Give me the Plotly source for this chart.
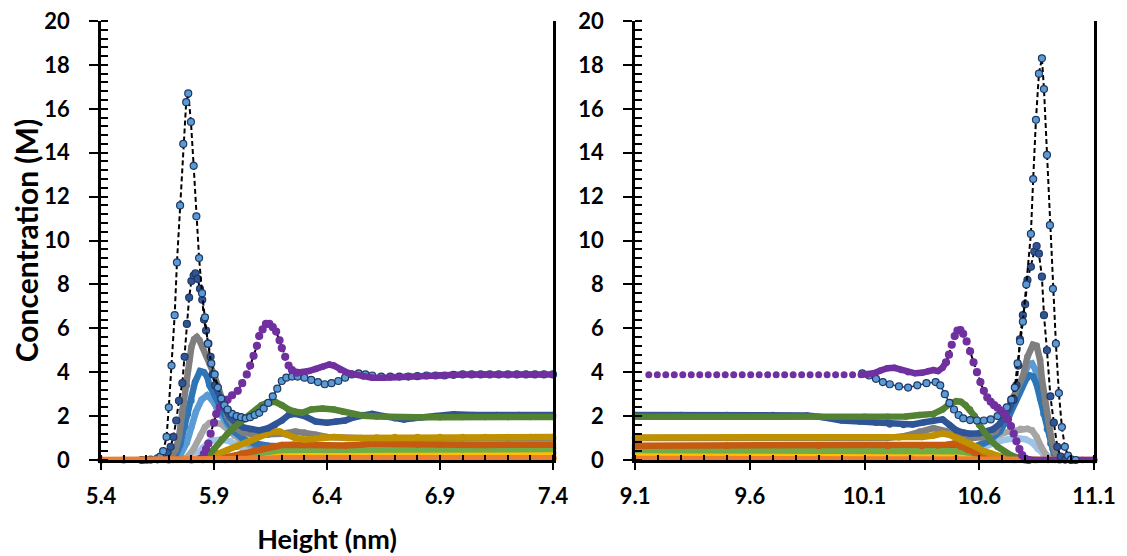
import plotly.graph_objects as go

# ---------------- tick labels ----------------
X_TICKS_L = [5.4, 5.9, 6.4, 6.9, 7.4]
X_TICKS_R = [9.1, 9.6, 10.1, 10.6, 11.1]
Y_TICKS = [0, 2, 4, 6, 8, 10, 12, 14, 16, 18, 20]

# ================= LEFT PANEL (height, concentration) =================
A_L_peak = [(5.58, 0), (5.62, 0.02), (5.65, 0.08), (5.662, 0.15), (5.675, 0.4), (5.69, 1.05), (5.70, 2.4),
            (5.712, 4.3), (5.726, 6.6), (5.736, 9.0), (5.75, 11.6), (5.764, 14.4), (5.777, 16.3), (5.786, 16.7),
            (5.798, 15.4), (5.81, 13.4), (5.822, 11.1), (5.834, 9.2), (5.847, 7.6), (5.86, 6.5), (5.873, 5.3),
            (5.888, 4.4), (5.903, 3.9), (5.917, 3.3), (5.932, 2.8), (5.946, 2.5), (5.96, 2.3)]
A_L_tail = [(5.96, 2.3), (5.98, 2.1), (6.00, 2.0), (6.02, 1.95), (6.04, 1.9), (6.06, 1.95), (6.08, 2.05),
            (6.10, 2.15), (6.12, 2.35), (6.14, 2.6), (6.16, 2.9), (6.18, 3.25), (6.20, 3.6), (6.22, 3.75),
            (6.245, 3.8), (6.27, 3.8), (6.30, 3.75), (6.33, 3.65), (6.36, 3.55), (6.39, 3.45), (6.42, 3.5),
            (6.45, 3.6), (6.48, 3.75), (6.51, 3.9), (6.54, 3.95), (6.57, 3.9), (6.60, 3.85), (6.64, 3.8),
            (6.68, 3.8), (6.72, 3.8), (6.76, 3.8), (6.80, 3.82), (6.84, 3.85), (6.88, 3.85), (6.92, 3.85),
            (6.96, 3.88), (7.00, 3.9), (7.04, 3.9), (7.08, 3.9), (7.12, 3.9), (7.16, 3.9), (7.20, 3.9),
            (7.24, 3.9), (7.28, 3.9), (7.32, 3.9), (7.36, 3.9), (7.40, 3.9)]
B_L_peak = [(5.60, 0), (5.65, 0.03), (5.68, 0.15), (5.695, 0.35), (5.708, 0.6), (5.72, 1.05), (5.733, 1.8),
            (5.745, 2.7), (5.76, 3.5), (5.77, 4.7), (5.78, 6.2), (5.79, 7.4), (5.80, 8.15), (5.81, 8.4),
            (5.818, 8.5), (5.828, 8.25), (5.838, 7.8), (5.848, 7.3), (5.856, 6.4), (5.865, 5.9), (5.875, 5.3),
            (5.885, 4.7), (5.895, 3.9), (5.905, 3.4)]
B_L_tail = [(5.905, 3.4), (5.93, 2.7), (5.95, 2.3), (5.97, 1.95), (6.00, 1.65), (6.03, 1.48), (6.06, 1.4),
            (6.10, 1.35), (6.14, 1.45), (6.17, 1.6), (6.20, 1.8), (6.23, 2.05), (6.26, 2.1), (6.30, 2.0),
            (6.35, 1.75), (6.40, 1.7), (6.44, 1.75), (6.48, 1.8), (6.52, 1.95), (6.56, 2.05), (6.60, 2.1),
            (6.65, 2.0), (6.70, 1.9), (6.74, 1.85), (6.78, 1.9), (6.82, 1.95), (6.88, 2.0), (6.96, 2.08),
            (7.05, 2.05), (7.15, 2.05), (7.25, 2.05), (7.40, 2.05)]
GRAY_L = [(5.70, 0.05), (5.73, 0.45), (5.745, 1.05), (5.76, 2.3), (5.78, 3.4), (5.79, 4.55), (5.80, 5.15),
          (5.812, 5.5), (5.824, 5.6), (5.836, 5.45), (5.85, 5.15), (5.865, 4.8), (5.88, 4.4), (5.90, 3.9),
          (5.92, 3.3), (5.94, 2.6), (5.96, 2.0), (5.99, 1.5), (6.03, 1.25), (6.08, 1.15), (6.14, 1.15),
          (6.20, 1.2), (6.26, 1.3), (6.30, 1.25), (6.35, 1.15), (6.40, 1.05), (6.50, 1.0), (6.60, 0.98),
          (6.80, 0.98), (7.00, 0.98), (7.20, 0.98), (7.40, 0.98)]
BLUE_L = [(5.70, 0), (5.73, 0.2), (5.75, 0.7), (5.77, 1.5), (5.785, 2.1), (5.80, 2.7), (5.816, 3.55),
          (5.838, 4.05), (5.855, 4.0), (5.87, 3.8), (5.88, 3.4), (5.905, 2.9), (5.93, 2.35), (5.96, 1.75),
          (5.99, 1.3), (6.03, 0.95), (6.08, 0.75), (6.14, 0.65), (6.22, 0.6), (6.35, 0.58), (6.50, 0.56),
          (6.70, 0.55), (7.00, 0.55), (7.40, 0.55)]
LBLUE_L = [(5.72, 0), (5.75, 0.2), (5.78, 0.8), (5.80, 1.5), (5.82, 2.2), (5.845, 2.75), (5.87, 2.95),
           (5.89, 2.75), (5.91, 2.4), (5.935, 2.0), (5.96, 1.6), (5.99, 1.25), (6.02, 1.0), (6.06, 0.75),
           (6.12, 0.55), (6.20, 0.45), (6.30, 0.4), (6.50, 0.38), (7.00, 0.36), (7.40, 0.35)]
LGRAY_L = [(5.74, 0), (5.78, 0.1), (5.81, 0.5), (5.84, 1.1), (5.86, 1.5), (5.88, 1.68), (5.905, 1.7),
           (5.93, 1.65), (5.96, 1.4), (5.99, 1.1), (6.03, 0.8), (6.08, 0.55), (6.14, 0.42), (6.22, 0.35),
           (6.40, 0.32), (7.00, 0.3), (7.40, 0.3)]
PBLUE_L = [(5.78, 0), (5.82, 0.2), (5.85, 0.55), (5.88, 0.85), (5.90, 0.9), (5.94, 0.92), (5.97, 0.85),
           (6.01, 0.62), (6.05, 0.45), (6.10, 0.33), (6.20, 0.28), (6.50, 0.26), (7.40, 0.25)]
PURPLE_L_peak = [(5.84, 0.05), (5.855, 0.27), (5.865, 0.5), (5.875, 0.75), (5.885, 1.2), (5.90, 1.7),
                 (5.91, 2.1), (5.925, 2.4), (5.94, 2.6), (5.96, 2.75), (5.98, 2.95), (6.005, 3.15),
                 (6.025, 3.5), (6.045, 3.9), (6.06, 4.3), (6.075, 4.75), (6.09, 5.2), (6.10, 5.65),
                 (6.115, 5.95), (6.13, 6.2), (6.145, 6.2), (6.16, 6.05), (6.175, 5.85), (6.19, 5.45),
                 (6.20, 5.1), (6.215, 4.7), (6.23, 4.3), (6.245, 4.1), (6.265, 3.98)]
PURPLE_L_tail = [(6.265, 3.98), (6.29, 4.0), (6.32, 4.05), (6.35, 4.15), (6.38, 4.25), (6.41, 4.35),
                 (6.43, 4.3), (6.46, 4.1), (6.49, 3.98), (6.52, 3.9), (6.56, 3.8), (6.60, 3.75), (6.65, 3.75),
                 (6.70, 3.78), (6.75, 3.8), (6.80, 3.82), (6.85, 3.84), (6.90, 3.86), (6.95, 3.88),
                 (7.00, 3.9), (7.05, 3.9), (7.10, 3.9), (7.15, 3.9), (7.20, 3.9), (7.25, 3.9), (7.30, 3.9),
                 (7.35, 3.9), (7.40, 3.9)]
DGREEN_L = [(5.85, 0), (5.87, 0.15), (5.90, 0.5), (5.935, 0.95), (5.96, 1.2), (5.99, 1.5), (6.02, 1.75),
            (6.05, 1.95), (6.08, 2.2), (6.11, 2.5), (6.14, 2.62), (6.17, 2.65), (6.20, 2.5), (6.23, 2.3),
            (6.26, 2.2), (6.29, 2.15), (6.33, 2.3), (6.38, 2.35), (6.43, 2.3), (6.47, 2.2), (6.51, 2.1),
            (6.56, 2.02), (6.62, 1.98), (6.70, 1.95), (6.80, 1.95), (6.90, 1.95), (7.00, 1.96),
            (7.10, 1.96), (7.20, 1.96), (7.30, 1.96), (7.40, 1.96)]
GOLD_L = [(5.85, 0), (5.87, 0.15), (5.92, 0.3), (5.96, 0.45), (6.00, 0.6), (6.05, 0.8), (6.09, 1.0),
          (6.125, 1.15), (6.16, 1.3), (6.19, 1.3), (6.22, 1.15), (6.26, 1.0), (6.30, 0.92), (6.34, 0.95),
          (6.38, 1.05), (6.43, 1.05), (6.49, 1.0), (6.55, 1.0), (6.62, 1.02), (6.70, 1.05), (6.80, 1.05),
          (6.90, 1.05), (7.00, 1.05), (7.10, 1.05), (7.20, 1.05), (7.30, 1.05), (7.40, 1.05)]
DORANGE_L = [(5.90, 0), (5.96, 0.15), (6.02, 0.3), (6.08, 0.45), (6.12, 0.55), (6.16, 0.62), (6.20, 0.68),
             (6.25, 0.7), (6.30, 0.68), (6.35, 0.68), (6.40, 0.67), (6.48, 0.66), (6.55, 0.7), (6.60, 0.75),
             (6.70, 0.73), (6.80, 0.7), (6.90, 0.7), (7.00, 0.68), (7.10, 0.68), (7.20, 0.7), (7.30, 0.7),
             (7.40, 0.7)]
GREEN_L = [(5.95, 0), (6.02, 0.1), (6.08, 0.25), (6.14, 0.38), (6.20, 0.45), (6.30, 0.47), (6.40, 0.45),
           (6.50, 0.47), (6.70, 0.48), (7.00, 0.48), (7.40, 0.5)]
YELLOW_L = [(5.95, 0), (6.05, 0.08), (6.15, 0.2), (6.25, 0.26), (6.50, 0.27), (7.00, 0.28), (7.40, 0.28)]
ORANGE_L = [(5.40, 0), (5.50, 0), (5.60, 0), (5.70, 0), (5.80, 0), (5.90, 0), (6.00, 0.02), (6.10, 0.05),
            (6.20, 0.08), (6.40, 0.08), (6.80, 0.08), (7.40, 0.08)]

# ================= RIGHT PANEL =================
A_R_tail = [(10.09, 3.95), (10.12, 3.85), (10.15, 3.7), (10.18, 3.55), (10.21, 3.45), (10.25, 3.35),
            (10.29, 3.3), (10.33, 3.4), (10.37, 3.5), (10.41, 3.55), (10.43, 3.4), (10.45, 3.0), (10.47, 2.6),
            (10.49, 2.3), (10.51, 2.05), (10.53, 1.9), (10.56, 1.82), (10.59, 1.8), (10.62, 1.8),
            (10.65, 1.85), (10.68, 2.0), (10.70, 2.2), (10.72, 2.4), (10.74, 2.75)]
A_R_peak = [(10.74, 2.75), (10.755, 3.3), (10.767, 4.4), (10.778, 5.4), (10.79, 6.3), (10.805, 8.0),
            (10.825, 10.3), (10.835, 12.8), (10.847, 15.5), (10.86, 17.6), (10.873, 18.3), (10.882, 16.9),
            (10.895, 13.9), (10.908, 10.7), (10.921, 7.8), (10.934, 5.3), (10.947, 3.05), (10.96, 1.5),
            (10.973, 0.6), (10.987, 0.2), (11.0, 0.03), (11.02, 0)]
B_R_tail = [(9.10, 2.05), (9.30, 2.05), (9.50, 2.05), (9.70, 2.05), (9.85, 2.03), (9.92, 1.95), (10.00, 1.8),
            (10.08, 1.75), (10.15, 1.7), (10.21, 1.62), (10.27, 1.6), (10.31, 1.62), (10.36, 1.72),
            (10.40, 1.8), (10.44, 1.85), (10.47, 1.6), (10.50, 1.35), (10.53, 1.25), (10.56, 1.2),
            (10.60, 1.22), (10.63, 1.28), (10.66, 1.4), (10.69, 1.65), (10.71, 1.95), (10.73, 2.3),
            (10.75, 2.75)]
B_R_peak = [(10.75, 2.75), (10.762, 3.4), (10.77, 4.3), (10.777, 5.5), (10.79, 6.6), (10.80, 7.1),
            (10.81, 8.2), (10.825, 8.8), (10.84, 9.5), (10.85, 9.75), (10.86, 9.4), (10.873, 8.35),
            (10.882, 6.6), (10.895, 5.0), (10.91, 2.9), (10.925, 1.7), (10.94, 0.6), (10.955, 0.15),
            (10.975, 0.02), (11.0, 0)]
GRAY_R = [(9.10, 1.0), (9.50, 1.0), (9.90, 1.0), (10.20, 1.0), (10.28, 1.1), (10.34, 1.3), (10.40, 1.45),
          (10.46, 1.3), (10.52, 1.1), (10.57, 1.0), (10.62, 1.05), (10.67, 1.3), (10.71, 2.0), (10.735, 2.6),
          (10.76, 3.2), (10.79, 3.8), (10.81, 4.7), (10.834, 5.25), (10.85, 5.2), (10.865, 4.55),
          (10.873, 3.7), (10.887, 2.6), (10.90, 1.8), (10.915, 0.9), (10.93, 0.35), (10.95, 0.08),
          (10.97, 0)]
BLUE_R = [(9.10, 0.55), (9.50, 0.55), (10.00, 0.55), (10.30, 0.6), (10.45, 0.6), (10.52, 0.55),
          (10.58, 0.6), (10.64, 0.85), (10.69, 1.3), (10.73, 2.0), (10.76, 2.7), (10.785, 3.3),
          (10.805, 3.7), (10.82, 3.85), (10.835, 3.8), (10.85, 3.45), (10.865, 2.8), (10.88, 2.1),
          (10.895, 1.4), (10.91, 0.75), (10.925, 0.3), (10.945, 0.08), (10.97, 0)]
LBLUE_R = [(9.10, 0.35), (10.00, 0.35), (10.40, 0.35), (10.50, 0.35), (10.56, 0.45), (10.62, 0.75),
           (10.67, 1.2), (10.71, 1.9), (10.75, 2.8), (10.78, 3.6), (10.80, 4.1), (10.815, 4.35),
           (10.83, 4.4), (10.845, 4.1), (10.86, 3.4), (10.875, 2.6), (10.89, 1.9), (10.905, 1.15),
           (10.92, 0.5), (10.935, 0.15), (10.955, 0.02)]
LGRAY_R = [(9.10, 0.3), (10.30, 0.3), (10.45, 0.32), (10.52, 0.4), (10.58, 0.6), (10.63, 0.85),
           (10.68, 1.15), (10.73, 1.3), (10.78, 1.42), (10.81, 1.42), (10.83, 1.35), (10.85, 1.05),
           (10.87, 0.6), (10.89, 0.25), (10.91, 0.05), (10.93, 0)]
PBLUE_R = [(9.10, 0.25), (10.40, 0.25), (10.52, 0.28), (10.58, 0.45), (10.64, 0.7), (10.70, 0.9),
           (10.76, 1.0), (10.80, 0.95), (10.83, 0.8), (10.855, 0.5), (10.88, 0.2), (10.90, 0.05), (10.92, 0)]
PURPLE_R_dots = [(9.160, 3.88), (9.197, 3.88), (9.234, 3.88), (9.271, 3.88), (9.308, 3.88), (9.345, 3.88),
                 (9.382, 3.88), (9.419, 3.88), (9.456, 3.88), (9.493, 3.88), (9.530, 3.88), (9.567, 3.88),
                 (9.604, 3.88), (9.641, 3.88), (9.678, 3.88), (9.715, 3.88), (9.752, 3.88), (9.789, 3.88),
                 (9.826, 3.88), (9.863, 3.88), (9.900, 3.88), (9.937, 3.88), (9.974, 3.88), (10.011, 3.88),
                 (10.048, 3.88), (10.085, 3.88)]
PURPLE_R_band = [(10.085, 3.88), (10.11, 3.88), (10.14, 3.95), (10.17, 4.08), (10.20, 4.18), (10.23, 4.2),
                 (10.26, 4.1), (10.29, 4.0), (10.32, 3.95), (10.35, 3.97), (10.38, 4.05), (10.40, 4.1),
                 (10.42, 4.05), (10.44, 4.2), (10.455, 4.45)]
PURPLE_R_peak = [(10.455, 4.45), (10.468, 4.8), (10.48, 5.25), (10.493, 5.65), (10.505, 5.9), (10.518, 5.92),
                 (10.53, 5.75), (10.545, 5.4), (10.56, 4.95), (10.575, 4.45), (10.59, 4.0), (10.605, 3.55),
                 (10.62, 3.15), (10.635, 2.85), (10.65, 2.65), (10.665, 2.5), (10.68, 2.38), (10.695, 2.25),
                 (10.71, 2.1), (10.725, 1.85), (10.738, 1.55), (10.75, 1.2), (10.762, 0.85), (10.775, 0.5),
                 (10.787, 0.22), (10.80, 0.06), (10.815, 0)]
PURPLE_R_base = [(10.815, 0), (10.85, 0), (10.90, 0), (10.95, 0), (11.00, 0), (11.05, 0), (11.10, 0)]
DGREEN_R = [(9.10, 1.97), (9.50, 1.97), (9.90, 1.97), (10.10, 1.97), (10.20, 1.97), (10.28, 1.98),
            (10.34, 2.05), (10.40, 2.1), (10.44, 2.3), (10.47, 2.55), (10.50, 2.68), (10.52, 2.65),
            (10.54, 2.5), (10.56, 2.3), (10.58, 2.0), (10.60, 1.6), (10.62, 1.3), (10.65, 0.9), (10.68, 0.6),
            (10.71, 0.38), (10.74, 0.2), (10.77, 0.1), (10.80, 0.04), (10.84, 0)]
GOLD_R = [(9.10, 1.02), (9.50, 1.02), (9.90, 1.02), (10.10, 1.03), (10.25, 1.03), (10.35, 1.05),
          (10.40, 1.12), (10.44, 1.2), (10.47, 1.15), (10.50, 1.02), (10.53, 0.9), (10.56, 0.75),
          (10.59, 0.58), (10.62, 0.4), (10.65, 0.3), (10.68, 0.18), (10.71, 0.1), (10.75, 0.04), (10.80, 0)]
DORANGE_R = [(9.10, 0.65), (9.50, 0.65), (9.90, 0.65), (10.20, 0.64), (10.35, 0.64), (10.42, 0.66),
             (10.46, 0.7), (10.49, 0.75), (10.52, 0.6), (10.55, 0.45), (10.58, 0.32), (10.62, 0.18),
             (10.66, 0.08), (10.70, 0.03), (10.75, 0)]
GREEN_R = [(9.10, 0.46), (9.90, 0.46), (10.30, 0.45), (10.45, 0.45), (10.52, 0.4), (10.58, 0.3),
           (10.64, 0.15), (10.70, 0.05), (10.76, 0)]
YELLOW_R = [(9.10, 0.23), (9.90, 0.22), (10.30, 0.2), (10.50, 0.18), (10.60, 0.12), (10.70, 0.05), (10.80, 0)]
ORANGE_R = [(9.10, 0.05), (9.50, 0.05), (9.90, 0.05), (10.30, 0.05), (10.50, 0.05), (10.70, 0.02),
            (10.80, 0), (10.95, 0), (11.10, 0)]

# ---------------- styling ----------------
C = dict(purple='#7030A0', dblue='#2F5597', navy='#1F3864', gray='#7F7F7F', blue='#2E75B6',
         lblue='#5B9BD5', lgray='#A5A5A5', pblue='#9DC3E6', dgreen='#548235', gold='#BF9000',
         dorange='#C55A11', green='#70AD47', yellow='#FFC000', orange='#ED7D31')
DASH = '5px,3px'

fig = go.Figure()


def add(pts, panel, style, color, edge=None, size=6.5):
    x = [p[0] for p in pts]
    y = [p[1] for p in pts]
    axes = dict(xaxis='x', yaxis='y') if panel == 1 else dict(xaxis='x2', yaxis='y2')
    if style == 'band':
        kw = dict(mode='lines+markers', line=dict(color=color, width=6.5),
                  marker=dict(color=color, size=size))
    elif style == 'dash':
        kw = dict(mode='lines+markers', line=dict(color='black', width=2, dash=DASH),
                  marker=dict(color=color, size=size, line=dict(color=edge or color, width=1.2)))
    elif style == 'chain':
        kw = dict(mode='lines+markers', line=dict(color=edge, width=1.5),
                  marker=dict(color=color, size=size, line=dict(color=edge, width=1.2)))
    else:  # dots
        kw = dict(mode='markers', marker=dict(color=color, size=size))
    fig.add_trace(go.Scatter(x=x, y=y, cliponaxis=False, hoverinfo='skip', showlegend=False, **axes, **kw))


for panel, S in ((1, dict(pb=PBLUE_L, lg=LGRAY_L, lb=LBLUE_L, bl=BLUE_L, gr=GRAY_L, ye=YELLOW_L, gn=GREEN_L,
                          do=DORANGE_L, go_=GOLD_L, bt=B_L_tail, dg=DGREEN_L, at=A_L_tail)),
                 (2, dict(pb=PBLUE_R, lg=LGRAY_R, lb=LBLUE_R, bl=BLUE_R, gr=GRAY_R, ye=YELLOW_R, gn=GREEN_R,
                          do=DORANGE_R, go_=GOLD_R, bt=B_R_tail, dg=DGREEN_R, at=A_R_tail))):
    add(S['pb'], panel, 'band', C['pblue'])
    add(S['lg'], panel, 'band', C['lgray'])
    add(S['lb'], panel, 'band', C['lblue'])
    add(S['bl'], panel, 'band', C['blue'])
    add(S['ye'], panel, 'band', C['yellow'])
    add(S['gn'], panel, 'band', C['green'])
    add(S['do'], panel, 'band', C['dorange'])
    add(S['gr'], panel, 'band', C['gray'])
    add(S['go_'], panel, 'band', C['gold'])
    add(S['bt'], panel, 'band', C['dblue'])
    add(S['dg'], panel, 'band', C['dgreen'])
    add(S['at'], panel, 'chain', C['lblue'], C['navy'], 7)
    if panel == 1:
        add(PURPLE_L_tail, 1, 'band', C['purple'])
        add(PURPLE_L_peak, 1, 'dash', C['purple'], C['purple'], 7)
        add(B_L_peak, 1, 'dash', C['dblue'], C['navy'], 7)
        add(A_L_peak, 1, 'dash', C['lblue'], C['navy'], 7)
        add(ORANGE_L, 1, 'band', C['orange'], size=7.5)
    else:
        add(ORANGE_R, 2, 'band', C['orange'], size=7.5)
        add(PURPLE_R_dots, 2, 'dots', C['purple'], size=7)
        add(PURPLE_R_band, 2, 'band', C['purple'])
        add(PURPLE_R_peak, 2, 'dash', C['purple'], C['purple'], 7)
        add(PURPLE_R_base, 2, 'band', C['purple'])
        add(B_R_peak, 2, 'dash', C['dblue'], C['navy'], 7)
        add(A_R_peak, 2, 'dash', C['lblue'], C['navy'], 7)

FONT = 'Lato'
tickfont = dict(family=FONT, size=22, color='black', weight='bold')
common = dict(showgrid=False, zeroline=False, showline=True, linecolor='black', linewidth=2.5,
              ticks='outside', tickcolor='black', tickwidth=2, tickfont=tickfont, automargin=False,
              ticklabeloverflow='allow')


def xax(domain, ticks, anchor, title=None):
    d = dict(common, domain=domain, anchor=anchor, range=[ticks[0], ticks[-1]], tickmode='array',
             tickvals=ticks, ticktext=[f'{t:.1f}' for t in ticks], ticklen=7, ticklabelstandoff=8,
             minor=dict(dtick=0.1, tick0=ticks[0], ticks='inside', ticklen=5, tickwidth=2, tickcolor='black'))
    if title:
        d['title'] = dict(text=title, font=dict(family=FONT, size=27, color='black', weight='bold'),
                          standoff=22)
    return d


def yax(anchor, title=None):
    d = dict(common, anchor=anchor, range=[0, 20], tickmode='array', tickvals=Y_TICKS,
             ticktext=[str(t) for t in Y_TICKS], ticklen=9, mirror=True, ticklabelstandoff=15,
             minor=dict(dtick=0.4, ticks='inside', ticklen=7, tickwidth=1.5, tickcolor='black'))
    if title:
        d['title'] = dict(text=title, font=dict(family=FONT, size=30, color='black', weight='bold'),
                          standoff=11)
    return d


# the page body adds an 8 px offset, so the figure is 8 px smaller and shifted accordingly
fig.update_layout(
    width=1119, height=548, plot_bgcolor='white', paper_bgcolor='white',
    margin=dict(l=93, r=33, t=13, b=96),
    xaxis=xax([0, 0.4552], X_TICKS_L, 'y', 'Height (nm)'),
    xaxis2=xax([0.5378, 1.0], X_TICKS_R, 'y2'),
    yaxis=yax('x', 'Concentration (M)'),
    yaxis2=yax('x2'),
)

fig.write_html('out.html')
